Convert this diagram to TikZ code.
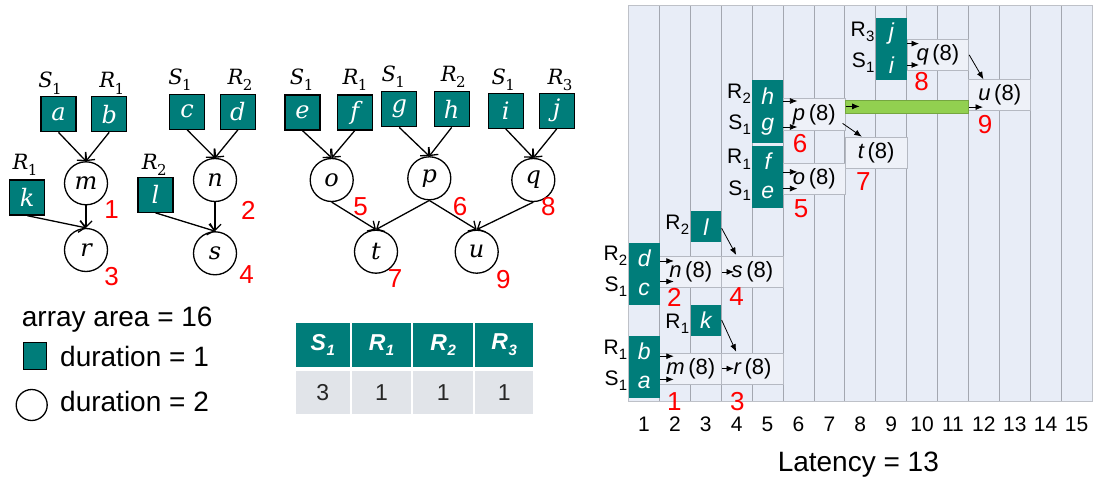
\documentclass[tikz,border=0pt]{standalone}
\usepackage{fontspec}
\setsansfont{Liberation Sans}
\newfontfamily\gserif{DejaVu Serif}
\usetikzlibrary{arrows.meta,calc}

\definecolor{blockteal}{HTML}{007D7A}
\definecolor{gridbg}{HTML}{E8EDF7}
\definecolor{gridline}{HTML}{A3A7B0}
\definecolor{opfill}{HTML}{EEF1F8}
\definecolor{opline}{HTML}{B5B9C2}
\definecolor{barfill}{HTML}{92D050}
\definecolor{cellgray}{HTML}{E1E4E9}

\newcommand\fsz[1]{\fontsize{#1}{#1}\selectfont}
% italic serif label with a small subscript (graph side)
\newcommand\glabel[2]{{\itshape #1}\kern-0.5pt\raisebox{-0.3em}{\fsz{15}\upshape #2}}
% upright sans label with subscript (schedule side)
\newcommand\clabel[2]{#1\kern0.3pt\raisebox{-0.25em}{\fsz{15}#2}}
% bold italic header text of the resource table
\newcommand\hlabel[2]{{\bfseries\itshape #1\kern0.5pt\raisebox{-0.25em}{\fsz{15}#2}}}

\begin{document}
\begin{tikzpicture}[x=1pt,y=-1pt,
  gblk/.style={draw=black, line width=1.3pt, fill=blockteal, minimum width=35pt,
    minimum height=35pt, inner sep=0pt, text=white, font=\gserif\itshape\fsz{24}},
  gop/.style={circle, draw=black, line width=1.3pt, minimum size=43pt, inner sep=0pt,
    font=\gserif\itshape\fsz{24}},
  glab/.style={inner sep=0pt, font=\gserif\fsz{21}},
  rnum/.style={inner sep=0pt, text=red, font=\sffamily\fsz{26}},
  garr/.style={-{Straight Barb[length=6pt,width=12pt]}, line width=1.3pt},
  cblk/.style={fill=blockteal, minimum width=30.9pt, minimum height=31pt, inner sep=0pt,
    anchor=north west, text=white, font=\sffamily\itshape\fsz{23}},
  cop/.style={draw=opline, fill=opfill, line width=0.8pt, minimum width=61.8pt,
    minimum height=31pt, inner sep=0pt, anchor=north west, font=\sffamily\fsz{22}},
  clab/.style={inner sep=0pt, anchor=east, xshift=-1pt, font=\sffamily\fsz{21}},
  carr/.style={-{Latex[length=7.5pt,width=6pt]}, line width=0.8pt},
  axnum/.style={inner sep=0pt, font=\sffamily\fsz{21}},
  legtxt/.style={inner sep=0pt, anchor=west, font=\sffamily\fsz{28}},
  thdr/.style={fill=blockteal, minimum height=43.4pt, inner sep=0pt, text=white,
    font=\sffamily\fsz{23}},
  tval/.style={fill=cellgray, minimum height=43.3pt, inner sep=0pt, text=black!85,
    font=\sffamily\fsz{23}}
]
\useasboundingbox (0,0) rectangle (1099,484);

% ---------------- dependency graphs ----------------
\node[gblk] (a) at (58.5,114.2) {a};
\node[gblk] (b) at (109.2,114.2) {b};
\node[glab] at (50,83.3) {\glabel{S}{1}};
\node[glab] at (111.7,83.3) {\glabel{R}{1}};
\node[gblk] (k) at (27.2,197.5) {k};
\node[glab] at (25,165) {\glabel{R}{1}};
\node[gop] (m) at (86,183.3) {m};
\node[gop] (r) at (86,250) {r};
\node[rnum] at (111.7,209.3) {1};
\node[rnum] at (111.7,276.7) {3};
\draw[garr] (a.south) -- (m.north);
\draw[garr] (b.south) -- (m.north);
\draw[garr] (m.south) -- (r.north);
\draw[garr] (k.south) -- (r.north);

\node[gblk] (c) at (187.2,111.7) {c};
\node[gblk] (d) at (237.9,111.7) {d};
\node[glab] at (180,80) {\glabel{S}{1}};
\node[glab] at (240,80) {\glabel{R}{2}};
\node[gblk] (l) at (155.5,194.7) {l};
\node[glab] at (154.3,165) {\glabel{R}{2}};
\node[gop] (n) at (215,180) {n};
\node[gop] (s) at (215,253.3) {s};
\node[rnum] at (248.3,210) {2};
\node[rnum] at (246.7,275) {4};
\draw[garr] (c.south) -- (n.north);
\draw[garr] (d.south) -- (n.north);
\draw[garr] (n.south) -- (s.north);
\draw[garr] (l.south) -- (s.north);

\node[gblk] (e) at (302.5,112.5) {e};
\node[gblk] (f) at (354.7,112.5) {f};
\node[gblk] (g) at (399.2,109.2) {g};
\node[gblk] (h) at (451.7,109.2) {h};
\node[gblk] (i) at (505.8,110.8) {i};
\node[gblk] (j) at (556.7,110.8) {j};
\node[glab] at (301.7,80) {\glabel{S}{1}};
\node[glab] at (355,80) {\glabel{R}{1}};
\node[glab] at (393.3,76.7) {\glabel{S}{1}};
\node[glab] at (453.3,76.7) {\glabel{R}{2}};
\node[glab] at (503.3,80) {\glabel{S}{1}};
\node[glab] at (560,80) {\glabel{R}{3}};
\node[gop] (o) at (331.7,180) {o};
\node[gop] (p) at (429.3,178.3) {p};
\node[gop] (q) at (533.3,180) {q};
\node[gop] (t) at (376,251.7) {t};
\node[gop] (u) at (476.7,251.7) {u};
\node[rnum] at (360.7,206.7) {5};
\node[rnum] at (460,206.7) {6};
\node[rnum] at (548.3,206.7) {8};
\node[rnum] at (395,278.3) {7};
\node[rnum] at (503.3,280) {9};
\draw[garr] (e.south) -- (o.north);
\draw[garr] (f.south) -- (o.north);
\draw[garr] (g.south) -- (p.north);
\draw[garr] (h.south) -- (p.north);
\draw[garr] (i.south) -- (q.north);
\draw[garr] (j.south) -- (q.north);
\draw[garr] (o.south) -- (t.north);
\draw[garr] (p.south) -- (t.north);
\draw[garr] (p.south) -- (u.north);
\draw[garr] (q.south) -- (u.north);

% ---------------- legend ----------------
\node[legtxt] (area) at (21.7,320) {array area = 16};
\node[draw=black, line width=1.3pt, fill=blockteal, minimum width=23pt, minimum height=27pt,
  inner sep=0pt] (lgsq) at (35,356.3) {};
\node[legtxt] at (60,356.7) {duration = 1};
\node[circle, draw=black, line width=1.3pt, minimum size=31pt, inner sep=0pt] (lgci) at (31.7,405) {};
\node[legtxt] at (60,401.7) {duration = 2};

% ---------------- resource table ----------------
\node[thdr, minimum width=53.7pt] (h1) at (322.8,345) {\hlabel{S}{1}};
\node[thdr, minimum width=59.6pt] (h2) at (381.5,345) {\hlabel{R}{1}};
\node[thdr, minimum width=59.7pt] (h3) at (443.2,345) {\hlabel{R}{2}};
\node[thdr, minimum width=58.3pt] (h4) at (504.2,345) {\hlabel{R}{3}};
\node[tval, minimum width=53.7pt] (v1) at (322.8,392.7) {3};
\node[tval, minimum width=59.6pt] (v2) at (381.5,392.7) {1};
\node[tval, minimum width=59.7pt] (v3) at (443.2,392.7) {1};
\node[tval, minimum width=58.3pt] (v4) at (504.2,392.7) {1};

% ---------------- schedule chart ----------------
\fill[gridbg] (628.5,6) rectangle (1092,401.7);
\foreach \k in {1,...,14}
  \draw[gridline, line width=0.8pt] (628.5+30.9*\k,6) -- (628.5+30.9*\k,401.7);
\draw[gridline!70, line width=1pt] (628.5,6) rectangle (1092,401.7);

% operation boxes (two columns each)
\node[cop] (cm) at (659.4,352.7) {{\itshape m}\,(8)};
\node[cop] (cr) at (721.2,352.7) {{\itshape r}\,(8)};
\node[cop] (cn) at (659.4,256) {{\itshape n}\,(8)};
\node[cop] (cs) at (721.2,256) {{\itshape s}\,(8)};
\node[cop] (co) at (783,163.3) {{\itshape o}\,(8)};
\node[cop] (cp) at (783,98.5) {{\itshape p}\,(8)};
\node[cop] (ct) at (844.8,136.7) {{\itshape t}\,(8)};
\node[cop] (cq) at (906.6,39) {{\itshape q}\,(8)};
\node[cop] (cu) at (968.4,79.3) {{\itshape u}\,(8)};
\node[draw=barfill!80!black, line width=0.6pt, fill=barfill, minimum width=123.6pt,
  minimum height=13pt, inner sep=0pt, anchor=north west] (bar) at (844.8,100.3) {};

% load/store blocks
\node[cblk] (ca) at (628.5,366.7) {a};
\node[cblk] (cb) at (628.5,335.7) {b};
\node[cblk] (cc) at (628.5,273.3) {c};
\node[cblk] (cd) at (628.5,242.3) {d};
\node[cblk] (ck) at (690.3,304.3) {k};
\node[cblk] (cl) at (690.3,211) {l};
\node[cblk] (ce) at (752.1,176.7) {e};
\node[cblk] (cf) at (752.1,145.7) {f};
\node[cblk] (cg) at (752.1,111.3) {g};
\node[cblk] (ch) at (752.1,80.3) {h};
\node[cblk] (ci) at (875.7,49.3) {i};
\node[cblk] (cj) at (875.7,18.3) {j};

% array labels
\node[clab, yshift=2pt] at (ca.west) {\clabel{S}{1}};
\node[clab, yshift=2pt] at (cb.west) {\clabel{R}{1}};
\node[clab, yshift=2pt] at (cc.west) {\clabel{S}{1}};
\node[clab, yshift=2pt] at (cd.west) {\clabel{R}{2}};
\node[clab, yshift=-4pt] at (ck.west) {\clabel{R}{1}};
\node[clab, yshift=2pt] at (cl.west) {\clabel{R}{2}};
\node[clab, yshift=2pt] at (ce.west) {\clabel{S}{1}};
\node[clab, yshift=2pt] at (cf.west) {\clabel{R}{1}};
\node[clab, yshift=2pt] at (cg.west) {\clabel{S}{1}};
\node[clab, yshift=2pt] at (ch.west) {\clabel{R}{2}};
\node[clab, yshift=2pt] at (ci.west) {\clabel{S}{1}};
\node[clab, yshift=2pt] at (cj.west) {\clabel{R}{3}};

% data movement
\draw[carr] ([yshift=-4.8pt]cb.east) -- ++(14,0);
\draw[carr] ([yshift=3pt]ca.east) -- ++(14,0);
\draw[carr] (cm.east) -- ++(12,0);
\draw[carr] (ck.east) -- ([xshift=15pt,yshift=1pt]cr.north west);
\draw[carr] ([yshift=-3pt]cd.east) -- ++(14,0);
\draw[carr] ([yshift=7.5pt]cc.east) -- ++(14,0);
\draw[carr] (cn.east) -- ++(12,0);
\draw[carr] ([yshift=-1.5pt]cl.east) -- ([xshift=15pt,yshift=1pt]cs.north west);
\draw[carr] ([yshift=-10.5pt]cf.east) -- ++(14,0);
\draw[carr] ([yshift=3.8pt]ce.east) -- ++(14,0);
\draw[carr] ([yshift=-5pt]ch.east) -- ++(14,0);
\draw[carr] (cg.east) -- ++(14,0);
\draw[carr] ([xshift=-3pt,yshift=-9pt]cp.east) -- ([xshift=17pt]ct.north west);
\draw[carr] ([yshift=8pt]cp.east) -- ++(14,0);
\draw[carr] (bar.east) -- ++(14,0);
\draw[carr] ([yshift=-9.6pt]cj.east) -- ++(12,0);
\draw[carr] (ci.east) -- ++(12,0);
\draw[carr] (cq.east) -- ([xshift=15pt]cu.north west);

% schedule numbers
\node[rnum] at (674.3,401.7) {1};
\node[rnum] at (674.3,297) {2};
\node[rnum] at (737.3,401.7) {3};
\node[rnum] at (736.7,297) {4};
\node[rnum] at (801,208.3) {5};
\node[rnum] at (800,143.3) {6};
\node[rnum] at (863.3,181.7) {7};
\node[rnum] at (921.7,81.7) {8};
\node[rnum] at (985,125) {9};

% cycle axis
\foreach \k in {1,...,15}
  \node[axnum] at (628.5+30.9*\k-15.45,424) {\k};
\node[inner sep=0pt, font=\sffamily\fsz{28}] (lat) at (858.3,465) {Latency = 13};
\end{tikzpicture}
\end{document}
